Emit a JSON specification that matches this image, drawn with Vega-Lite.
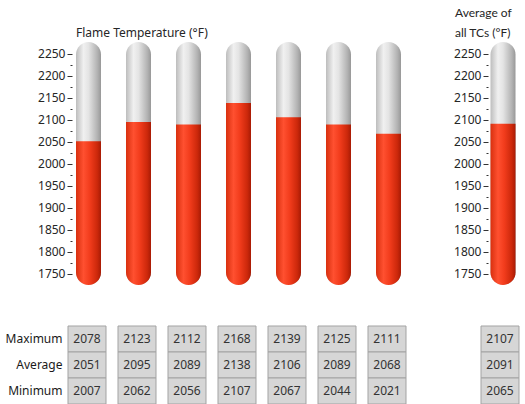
{
  "$schema": "https://vega.github.io/schema/vega-lite/v6.json",
  "background": "white",
  "padding": {"left": 5, "top": 7, "right": 0, "bottom": 0},
  "datasets": {
    "tc": [
      {"tc": "1", "Maximum": 2078, "Average": 2051, "Minimum": 2007},
      {"tc": "2", "Maximum": 2123, "Average": 2095, "Minimum": 2062},
      {"tc": "3", "Maximum": 2112, "Average": 2089, "Minimum": 2056},
      {"tc": "4", "Maximum": 2168, "Average": 2138, "Minimum": 2107},
      {"tc": "5", "Maximum": 2139, "Average": 2106, "Minimum": 2067},
      {"tc": "6", "Maximum": 2125, "Average": 2089, "Minimum": 2044},
      {"tc": "7", "Maximum": 2111, "Average": 2068, "Minimum": 2021}
    ],
    "all": [
      {"tc": "all", "Maximum": 2107, "Average": 2091, "Minimum": 2065}
    ]
  },
  "config": {
    "view": {"stroke": null},
    "font": "Noto Sans",
    "axis": {"labelFont": "Noto Sans", "labelFontSize": 12, "labelColor": "#262626"},
    "title": {"font": "Noto Sans", "fontSize": 12, "fontWeight": "normal", "color": "#262626"}
  },
  "columns": 2,
  "align": "each",
  "spacing": {"row": 40, "column": 44},
  "concat": [
    {
      "data": {"name": "tc"},
      "width": 341,
      "height": 243,
      "title": {"text": "Flame Temperature (°F)", "anchor": "start", "frame": "group", "dx": 8, "offset": 2},
      "encoding": {
        "x": {"field": "tc", "type": "ordinal", "axis": null, "scale": {"paddingInner": 0.5, "paddingOuter": 0.16}}
      },
      "layer": [
        {
          "mark": {"type": "bar", "width": 25, "cornerRadius": 12.5,
            "fill": {"gradient": "linear", "x1": 0, "y1": 0, "x2": 1, "y2": 0,
              "stops": [{"offset": 0, "color": "#bdbdbd"}, {"offset": 0.3, "color": "#f0f0f0"}, {"offset": 0.5, "color": "#e4e4e4"}, {"offset": 0.85, "color": "#b3b3b3"}, {"offset": 1, "color": "#989898"}]}},
          "encoding": {
            "y": {"datum": 2277, "type": "quantitative", "scale": {"domain": [1724, 2277], "nice": false, "zero": false},
              "axis": {"values": [1750, 1800, 1850, 1900, 1950, 2000, 2050, 2100, 2150, 2200, 2250], "format": "d", "orient": "left", "offset": -4, "domain": false, "grid": false, "tickSize": 5, "tickColor": "#333333", "labelPadding": 2, "title": null}},
            "y2": {"datum": 1724}
          }
        },
        {
          "mark": {"type": "bar", "width": 25, "cornerRadiusBottomLeft": 12.5, "cornerRadiusBottomRight": 12.5,
            "fill": {"gradient": "linear", "x1": 0, "y1": 0, "x2": 1, "y2": 0,
              "stops": [{"offset": 0, "color": "#d8300f"}, {"offset": 0.3, "color": "#ff5030"}, {"offset": 0.55, "color": "#f23c1c"}, {"offset": 0.85, "color": "#cc280b"}, {"offset": 1, "color": "#a81b05"}]}},
          "encoding": {
            "y": {"field": "Average", "type": "quantitative",
              "axis": {"values": [1775, 1825, 1875, 1925, 1975, 2025, 2075, 2125, 2175, 2225], "orient": "left", "offset": -4, "domain": false, "grid": false, "labels": false, "tickSize": 2, "tickColor": "#333333", "title": null}},
            "y2": {"datum": 1724}
          }
        }
      ],
      "resolve": {"axis": {"y": "independent"}}
    },
    {
      "data": {"name": "all"},
      "width": 44,
      "height": 243,
      "title": {"text": ["Average of", "all TCs (°F)"], "anchor": "start", "align": "left", "frame": "group", "dx": -26, "offset": 2, "lineHeight": 20, "font": "Lato", "fontSize": 12},
      "encoding": {
        "x": {"field": "tc", "type": "ordinal", "axis": null, "scale": {"paddingInner": 0, "paddingOuter": 0}}
      },
      "layer": [
        {
          "mark": {"type": "bar", "width": 25, "cornerRadius": 12.5,
            "fill": {"gradient": "linear", "x1": 0, "y1": 0, "x2": 1, "y2": 0,
              "stops": [{"offset": 0, "color": "#bdbdbd"}, {"offset": 0.3, "color": "#f0f0f0"}, {"offset": 0.5, "color": "#e4e4e4"}, {"offset": 0.85, "color": "#b3b3b3"}, {"offset": 1, "color": "#989898"}]}},
          "encoding": {
            "y": {"datum": 2277, "type": "quantitative", "scale": {"domain": [1724, 2277], "nice": false, "zero": false},
              "axis": {"values": [1750, 1800, 1850, 1900, 1950, 2000, 2050, 2100, 2150, 2200, 2250], "format": "d", "orient": "left", "offset": -7, "domain": false, "grid": false, "tickSize": 5, "tickColor": "#333333", "labelPadding": 2, "title": null}},
            "y2": {"datum": 1724}
          }
        },
        {
          "mark": {"type": "bar", "width": 25, "cornerRadiusBottomLeft": 12.5, "cornerRadiusBottomRight": 12.5,
            "fill": {"gradient": "linear", "x1": 0, "y1": 0, "x2": 1, "y2": 0,
              "stops": [{"offset": 0, "color": "#d8300f"}, {"offset": 0.3, "color": "#ff5030"}, {"offset": 0.55, "color": "#f23c1c"}, {"offset": 0.85, "color": "#cc280b"}, {"offset": 1, "color": "#a81b05"}]}},
          "encoding": {
            "y": {"field": "Average", "type": "quantitative",
              "axis": {"values": [1775, 1825, 1875, 1925, 1975, 2025, 2075, 2125, 2175, 2225], "orient": "left", "offset": -7, "domain": false, "grid": false, "labels": false, "tickSize": 2, "tickColor": "#333333", "title": null}},
            "y2": {"datum": 1724}
          }
        }
      ],
      "resolve": {"axis": {"y": "independent"}}
    },
    {
      "data": {"name": "tc"},
      "transform": [{"fold": ["Maximum", "Average", "Minimum"], "as": ["stat", "value"]}],
      "width": 338,
      "height": 78,
      "encoding": {
        "x": {"field": "tc", "type": "ordinal", "axis": null, "scale": {"paddingInner": 0.24, "paddingOuter": 0}},
        "y": {"field": "stat", "type": "nominal", "sort": ["Maximum", "Average", "Minimum"], "scale": {"paddingInner": 0, "paddingOuter": 0},
          "axis": {"ticks": false, "domain": false, "labelPadding": 6, "title": null, "labelColor": "#1a1a1a"}}
      },
      "layer": [
        {"mark": {"type": "rect", "fill": "#d6d6d6", "stroke": "#a3a3a3", "strokeWidth": 1}},
        {"mark": {"type": "text", "fontSize": 12, "color": "#333333"}, "encoding": {"text": {"field": "value", "type": "quantitative", "format": "d"}}}
      ]
    },
    {
      "data": {"name": "all"},
      "transform": [{"fold": ["Maximum", "Average", "Minimum"], "as": ["stat", "value"]}],
      "width": 38,
      "height": 78,
      "encoding": {
        "x": {"field": "tc", "type": "ordinal", "axis": null, "scale": {"paddingInner": 0, "paddingOuter": 0}},
        "y": {"field": "stat", "type": "nominal", "sort": ["Maximum", "Average", "Minimum"], "scale": {"paddingInner": 0, "paddingOuter": 0}, "axis": null}
      },
      "layer": [
        {"mark": {"type": "rect", "fill": "#d6d6d6", "stroke": "#a3a3a3", "strokeWidth": 1}},
        {"mark": {"type": "text", "fontSize": 12, "color": "#333333"}, "encoding": {"text": {"field": "value", "type": "quantitative", "format": "d"}}}
      ]
    }
  ]
}
